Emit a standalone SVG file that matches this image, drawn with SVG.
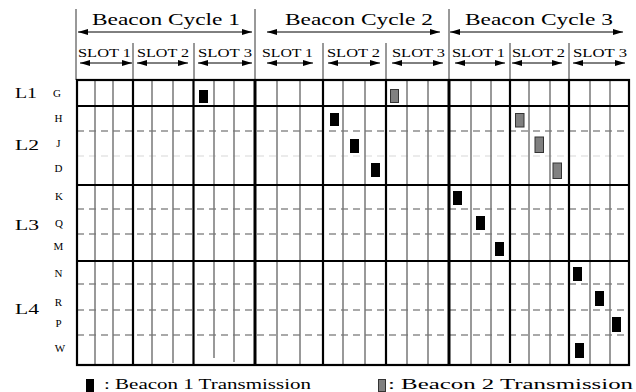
<svg xmlns="http://www.w3.org/2000/svg" width="636" height="392" viewBox="0 0 636 392">
<defs>
<marker id="ah" viewBox="0 0 10 6" refX="10" refY="3" markerWidth="10" markerHeight="6" markerUnits="userSpaceOnUse" orient="auto-start-reverse">
<path d="M0,0 L10,3 L0,6 z" fill="#000"/>
</marker>
<style>
text{font-family:"Liberation Serif","Times New Roman",serif;fill:#000}
.hc{font-size:16px}
.hs{font-size:12px}
.lg{font-size:15px}
.rl{font-size:11px;text-anchor:middle}
.leg{font-size:14px}
.hl{stroke:#333;stroke-width:1}
.arr{stroke:#000;stroke-width:1;marker-start:url(#ah);marker-end:url(#ah)}
.cyc{stroke:#000;stroke-width:3}
.slot{stroke:#000;stroke-width:2.2}
.sub{stroke:#777;stroke-width:1.5}
.grp{stroke:#000;stroke-width:2}
.dash{stroke:#555;stroke-width:1.2;stroke-dasharray:7 5}
.dashL{stroke:#d8d8d8;stroke-width:1.2;stroke-dasharray:7 5}
.b1{fill:#000}
.b2{fill:#808080;stroke:#333;stroke-width:1}
</style>
</defs>
<rect width="636" height="392" fill="#fff"/>

<g id="header">
<line class="hl" x1="76" y1="9" x2="76" y2="80"/>
<line class="hl" x1="255" y1="9" x2="255" y2="80"/>
<line class="hl" x1="449" y1="9" x2="449" y2="80"/>
<line class="hl" x1="133" y1="43" x2="133" y2="80"/>
<line class="hl" x1="194" y1="43" x2="194" y2="80"/>
<line class="hl" x1="323" y1="43" x2="323" y2="80"/>
<line class="hl" x1="386" y1="43" x2="386" y2="80"/>
<line class="hl" x1="510" y1="43" x2="510" y2="80"/>
<line class="hl" x1="569" y1="43" x2="569" y2="80"/>
<text class="hc" x="92" y="24.5" textLength="148" lengthAdjust="spacingAndGlyphs">Beacon Cycle 1</text>
<text class="hc" x="285" y="24.5" textLength="148" lengthAdjust="spacingAndGlyphs">Beacon Cycle 2</text>
<text class="hc" x="465" y="24.5" textLength="148" lengthAdjust="spacingAndGlyphs">Beacon Cycle 3</text>
<line class="arr" x1="78" y1="32" x2="252" y2="32"/>
<line class="arr" x1="267" y1="32" x2="440" y2="32"/>
<line class="arr" x1="450" y1="32" x2="623" y2="32"/>
<text class="hs" x="78" y="56.5" textLength="53" lengthAdjust="spacingAndGlyphs">SLOT 1</text>
<text class="hs" x="137" y="56.5" textLength="52" lengthAdjust="spacingAndGlyphs">SLOT 2</text>
<text class="hs" x="198" y="56.5" textLength="54" lengthAdjust="spacingAndGlyphs">SLOT 3</text>
<text class="hs" x="262" y="56.5" textLength="51" lengthAdjust="spacingAndGlyphs">SLOT 1</text>
<text class="hs" x="327" y="56.5" textLength="53" lengthAdjust="spacingAndGlyphs">SLOT 2</text>
<text class="hs" x="392" y="56.5" textLength="53" lengthAdjust="spacingAndGlyphs">SLOT 3</text>
<text class="hs" x="452" y="56.5" textLength="53" lengthAdjust="spacingAndGlyphs">SLOT 1</text>
<text class="hs" x="512" y="56.5" textLength="53" lengthAdjust="spacingAndGlyphs">SLOT 2</text>
<text class="hs" x="573" y="56.5" textLength="54" lengthAdjust="spacingAndGlyphs">SLOT 3</text>
<line class="arr" x1="80" y1="63" x2="132" y2="63"/>
<line class="arr" x1="137" y1="63" x2="188" y2="63"/>
<line class="arr" x1="198" y1="63" x2="252" y2="63"/>
<line class="arr" x1="267" y1="63" x2="313" y2="63"/>
<line class="arr" x1="328" y1="63" x2="380" y2="63"/>
<line class="arr" x1="392" y1="63" x2="443" y2="63"/>
<line class="arr" x1="455" y1="63" x2="505" y2="63"/>
<line class="arr" x1="512" y1="63" x2="562" y2="63"/>
<line class="arr" x1="573" y1="63" x2="625" y2="63"/>
</g>

<g id="labels">
<text class="lg" x="15" y="98" textLength="22" lengthAdjust="spacingAndGlyphs">L1</text>
<text class="lg" x="15" y="150" textLength="24" lengthAdjust="spacingAndGlyphs">L2</text>
<text class="lg" x="15" y="230" textLength="24" lengthAdjust="spacingAndGlyphs">L3</text>
<text class="lg" x="15" y="314" textLength="24" lengthAdjust="spacingAndGlyphs">L4</text>
<text class="rl" x="57" y="97">G</text>
<text class="rl" x="58.5" y="122">H</text>
<text class="rl" x="58.5" y="147">J</text>
<text class="rl" x="58.5" y="172">D</text>
<text class="rl" x="59" y="200">K</text>
<text class="rl" x="59" y="227">Q</text>
<text class="rl" x="58.5" y="250">M</text>
<text class="rl" x="58.5" y="277">N</text>
<text class="rl" x="58.5" y="306">R</text>
<text class="rl" x="58.5" y="327">P</text>
<text class="rl" x="60" y="352">W</text>
</g>

<g id="grid">
<line class="dash" x1="77" y1="131" x2="629" y2="131"/>
<line class="dashL" x1="77" y1="156" x2="629" y2="156"/>
<line class="dash" x1="77" y1="209" x2="629" y2="209"/>
<line class="dash" x1="77" y1="234" x2="629" y2="234"/>
<line class="dash" x1="77" y1="284" x2="629" y2="284"/>
<line class="dash" x1="77" y1="310" x2="629" y2="310"/>
<line class="dash" x1="77" y1="335" x2="629" y2="335"/>
<line class="sub" x1="95" y1="80" x2="95" y2="365"/>
<line class="sub" x1="113" y1="80" x2="113" y2="365"/>
<line class="sub" x1="152" y1="80" x2="152" y2="365"/>
<line class="sub" x1="173" y1="80" x2="173" y2="363"/>
<line class="sub" x1="214" y1="80" x2="214" y2="358"/>
<line class="sub" x1="234" y1="80" x2="234" y2="362"/>
<line class="sub" x1="277" y1="80" x2="277" y2="365"/>
<line class="sub" x1="300" y1="80" x2="300" y2="365"/>
<line class="sub" x1="343" y1="80" x2="343" y2="365"/>
<line class="sub" x1="365" y1="80" x2="365" y2="365"/>
<line class="sub" x1="407" y1="80" x2="407" y2="365"/>
<line class="sub" x1="428" y1="80" x2="428" y2="365"/>
<line class="sub" x1="471" y1="80" x2="471" y2="365"/>
<line class="sub" x1="491" y1="80" x2="491" y2="365"/>
<line class="sub" x1="529" y1="80" x2="529" y2="365"/>
<line class="sub" x1="550" y1="80" x2="550" y2="366"/>
<line class="sub" x1="590" y1="80" x2="590" y2="365"/>
<line class="sub" x1="610" y1="80" x2="610" y2="365"/>
<line class="slot" x1="133" y1="80" x2="133" y2="365"/>
<line class="slot" x1="193.5" y1="80" x2="193.5" y2="365"/>
<line class="slot" x1="323" y1="80" x2="323" y2="365"/>
<line class="slot" x1="386" y1="80" x2="386" y2="365"/>
<line class="slot" x1="510" y1="80" x2="510" y2="363"/>
<line class="slot" x1="569" y1="80" x2="569" y2="365"/>
<line class="cyc" x1="255" y1="80" x2="255" y2="365"/>
<line class="cyc" x1="449" y1="80" x2="449" y2="365"/>
<line class="grp" x1="77" y1="106" x2="629" y2="106"/>
<line class="grp" x1="77" y1="185" x2="629" y2="185"/>
<line class="grp" x1="77" y1="261" x2="629" y2="261"/>
<rect x="77" y="80" width="552" height="285" fill="none" stroke="#000" stroke-width="2.2"/>
</g>

<g id="transmissions">
<rect class="b1" x="199" y="90" width="9" height="13"/>
<rect class="b2" x="390.5" y="89.5" width="8" height="13"/>
<rect class="b1" x="330" y="113" width="9" height="13"/>
<rect class="b1" x="350" y="139" width="9" height="14"/>
<rect class="b1" x="371" y="163" width="9" height="14"/>
<rect class="b2" x="515.5" y="113.5" width="8.5" height="13.5"/>
<rect class="b2" x="535" y="137" width="8.5" height="15.5"/>
<rect class="b2" x="553" y="163" width="8.5" height="15.5"/>
<rect class="b1" x="453" y="191" width="9" height="14"/>
<rect class="b1" x="476" y="216" width="9" height="14"/>
<rect class="b1" x="495" y="242" width="9" height="14"/>
<rect class="b1" x="573" y="267" width="9" height="14"/>
<rect class="b1" x="595" y="291" width="9" height="15"/>
<rect class="b1" x="612" y="317" width="9" height="15"/>
<rect class="b1" x="575" y="343" width="9" height="15"/>
</g>

<g id="legend">
<rect class="b1" x="86" y="379" width="8" height="13"/>
<text class="leg" x="104" y="389" textLength="207" lengthAdjust="spacingAndGlyphs">: Beacon 1 Transmission</text>
<rect class="b2" x="378.5" y="379.5" width="7" height="12"/>
<text class="leg" x="388" y="389" textLength="245" lengthAdjust="spacingAndGlyphs">: Beacon 2 Transmission</text>
</g>
</svg>
